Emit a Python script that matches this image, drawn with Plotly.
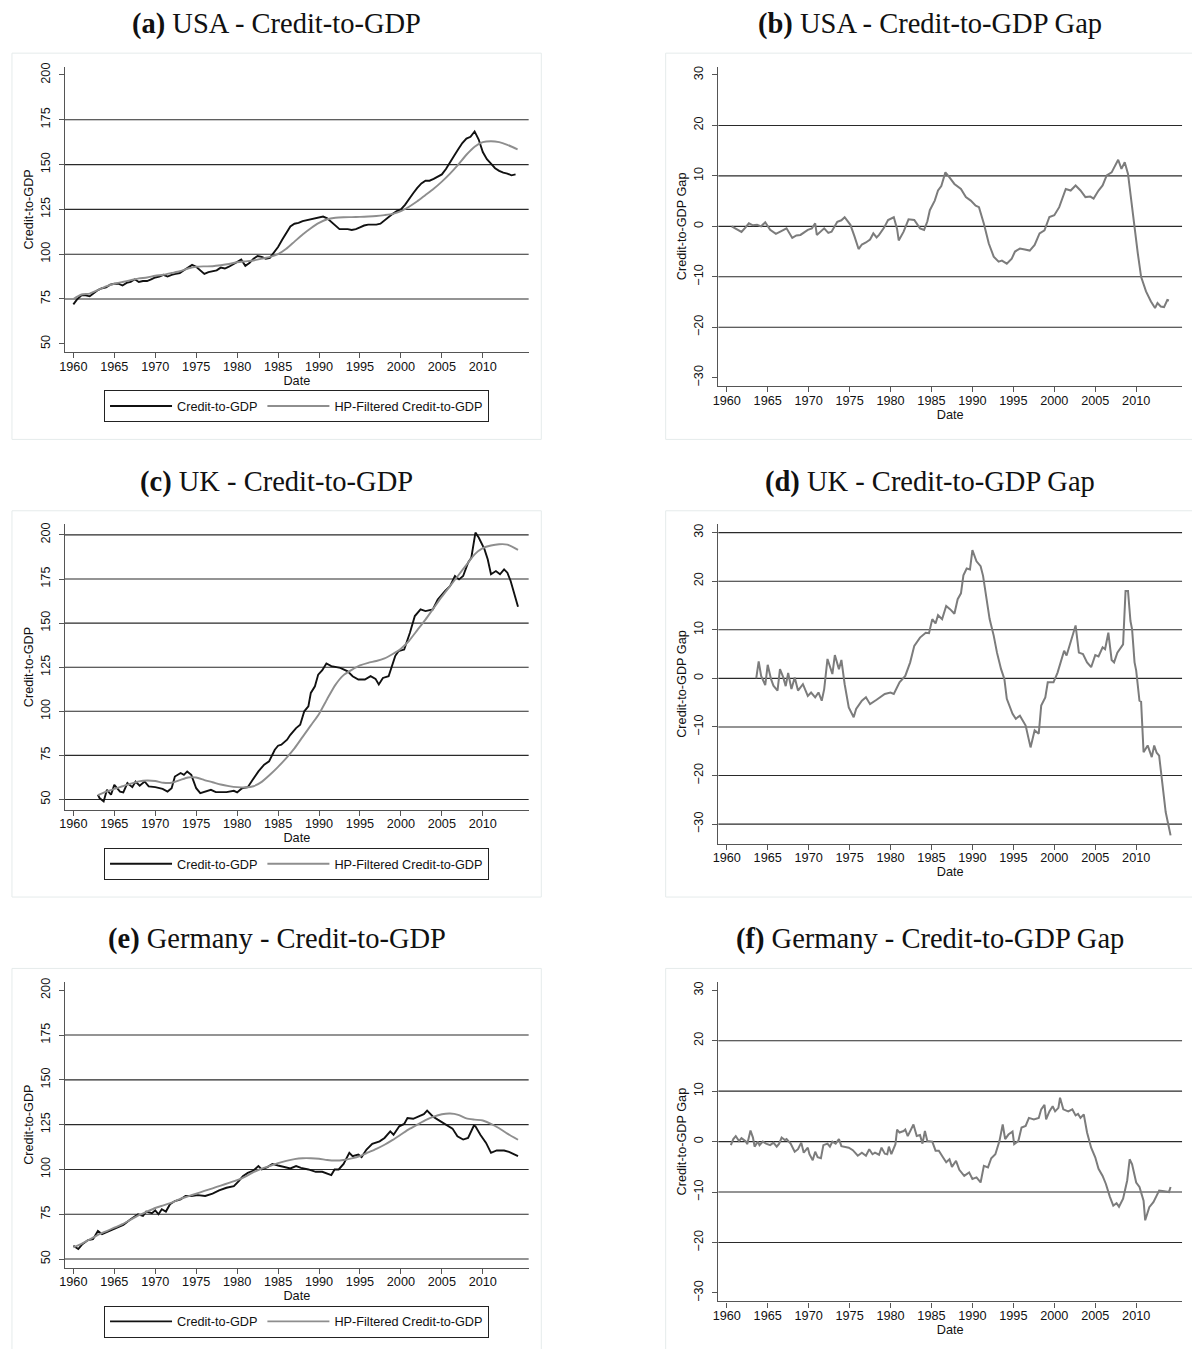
import plotly.graph_objects as go

W, H = 1192, 1349

# ------------------------------------------------------------------ data
x_ticks = [1960, 1965, 1970, 1975, 1980, 1985, 1990, 1995, 2000, 2005, 2010]
ratio_ticks = [50, 75, 100, 125, 150, 175, 200]
gap_ticks = [-30, -20, -10, 0, 10, 20, 30]

# USA credit-to-GDP (half-yearly readings)
usa_dates = [1960.0 + 0.5 * i for i in range(109)]
usa_ratio = [72, 75, 77, 77, 76.5, 78, 80, 81, 81.5, 83, 83.5, 83.5, 82.5, 84, 84.5, 86,
             84.5, 85, 85, 86, 87, 87.5, 88.5, 87.5, 88.5, 89, 89.5, 91, 92.5, 94, 93, 91,
             89, 90, 90.5, 91, 92.5, 92, 93, 94.5, 96, 97, 93.5, 95, 97.5, 99, 98.5, 97.5,
             98, 101, 104, 108, 112, 115.5, 117, 117.5, 118.5, 119, 119.5, 120, 120.5, 121,
             120, 118, 115.5, 114, 114, 114, 113.5, 114, 115, 116, 116.5, 116.5, 116.5, 117,
             119, 121, 122.5, 124, 125, 127.5, 131, 134, 137, 139.5, 141, 141, 142, 143.5,
             144.5, 147.5, 151.5, 155, 158.5, 162, 164.5, 165.5, 168.5, 164, 157, 153,
             150.5, 148, 146.5, 145.5, 145, 144, 144.5]
usa_trend_dates = list(range(1960, 2014)) + [2014.25]
usa_trend = [75, 77.5, 78, 80, 82, 83.5, 84.5, 85.5, 86.5, 87, 88, 88.5, 89.5, 90.5, 92, 93,
             93.2, 93.3, 93.8, 94.5, 95.5, 96, 96.5, 97.5, 98.5, 100, 103, 107, 111, 114.5,
             117.5, 119.5, 120.3, 120.6, 120.7, 120.8, 121, 121.3, 121.8, 122.5, 124, 126.5,
             129.5, 133, 136.5, 140.5, 145, 150, 155.5, 160, 162.5, 163, 162.5, 161, 158.5]
usa_gap_dates = [1960.6, 1961.2, 1961.8, 1962.3, 1962.7, 1963.2, 1963.7, 1964.2, 1964.7, 1965.3,
                 1966.0, 1966.6, 1967.3, 1968.0, 1968.5, 1969.0, 1969.9, 1970.4, 1970.8, 1971.0,
                 1971.5, 1971.9, 1972.4, 1972.8, 1973.5, 1974.0, 1974.4, 1975.1, 1975.6, 1976.1,
                 1976.5, 1977.0, 1977.5, 1977.9, 1978.3, 1978.6, 1979.2, 1979.7, 1980.4, 1980.8,
                 1981.0, 1981.6, 1982.2, 1982.9, 1983.6, 1984.1, 1984.5, 1984.8, 1985.4, 1985.8,
                 1986.2, 1986.7, 1987.2, 1987.8, 1988.6, 1989.2, 1989.8, 1990.4, 1990.8, 1991.4,
                 1992.0, 1992.6, 1993.2, 1993.6, 1994.2, 1994.8, 1995.2, 1995.8, 1996.4, 1997.0,
                 1997.6, 1998.2, 1998.8, 1999.4, 2000.0, 2000.6, 2001.4, 2002.0, 2002.6, 2003.2,
                 2003.8, 2004.4, 2004.8, 2005.4, 2005.9, 2006.4, 2007.0, 2007.8, 2008.2, 2008.6,
                 2009.0, 2009.4, 2009.8, 2010.2, 2010.6, 2011.2, 2011.8, 2012.3, 2012.6, 2013.0,
                 2013.4, 2013.8, 2014.0]
usa_gap = [0.0, -0.6, -1.1, -0.2, 0.6, 0.2, 0.3, 0.0, 0.8, -0.7,
           -1.5, -1.0, -0.4, -2.3, -1.8, -1.7, -0.7, -0.4, 0.6, -1.7,
           -1.0, -0.4, -1.3, -1.05, 0.9, 1.2, 1.8, 0.3, -2.0, -4.5,
           -3.6, -3.2, -2.6, -1.4, -2.2, -1.7, -0.3, 1.25, 1.8, -0.5,
           -2.8, -1.05, 1.4, 1.25, -0.4, -0.7, 1.0, 3.2, 5.1, 7.1,
           8.0, 10.7, 9.7, 8.4, 7.4, 5.8, 5.1, 4.1, 3.8, 0.5,
           -3.4, -6.0, -7.0, -6.8, -7.4, -6.4, -5.0, -4.4, -4.6, -4.8,
           -3.7, -1.4, -0.8, 1.85, 2.2, 3.8, 7.4, 7.1, 8.1, 7.1,
           5.8, 5.9, 5.5, 7.1, 8.1, 10.1, 10.7, 13.2, 11.4, 12.7,
           10.4, 5.1, -0.8, -5.4, -10.0, -12.9, -14.9, -16.2, -15.2, -15.9,
           -16.0, -14.6, -14.7]

# UK credit-to-GDP
uk_dates = [1963.0, 1963.2, 1963.7, 1964.1, 1964.6, 1965.0, 1965.7, 1966.1, 1966.6, 1967.2,
            1967.6, 1968.1, 1968.7, 1969.2, 1970.0, 1970.9, 1971.5, 1972.0, 1972.4, 1973.1,
            1973.5, 1973.9, 1974.4, 1975.0, 1975.5, 1976.1, 1976.8, 1977.4, 1978.7, 1979.6,
            1980.0, 1980.6, 1981.3, 1981.9, 1982.6, 1983.3, 1983.9, 1984.6, 1985.0, 1985.4,
            1986.1, 1986.5, 1987.2, 1987.7, 1988.2, 1988.7, 1989.0, 1989.5, 1989.9, 1990.4,
            1990.9, 1991.5, 1992.6, 1993.5, 1994.1, 1994.8, 1995.6, 1996.3, 1996.9, 1997.3,
            1997.8, 1998.5, 1998.9, 1999.3, 1999.7, 2000.4, 2001.1, 2001.7, 2002.4, 2003.0,
            2003.9, 2004.5, 2005.4, 2006.0, 2006.6, 2007.1, 2007.6, 2008.2, 2008.6, 2009.1,
            2009.5, 2010.2, 2010.6, 2011.0, 2011.6, 2012.1, 2012.6, 2013.0, 2013.4, 2013.9,
            2014.3]
uk_ratio = [52.7, 50.8, 48.9, 55.5, 52.7, 58.3, 54.5, 54.0, 59.3, 57.0,
            60.2, 57.8, 60.2, 57.4, 57.0, 56.0, 54.5, 56.4, 63.0, 65.0,
            64.0, 65.9, 64.0, 56.4, 53.6, 54.5, 55.5, 54.2, 54.2, 54.9,
            54.0, 56.4, 57.0, 61.2, 65.9, 69.7, 71.6, 78.2, 80.5, 81.1,
            83.9, 86.7, 90.5, 92.4, 100.0, 102.8, 110.4, 114.2, 120.8, 123.3,
            127.1, 125.6, 124.6, 122.7, 119.9, 118.0, 118.0, 119.9, 118.4, 115.2,
            118.9, 119.9, 125.6, 131.3, 134.1, 135.0, 144.5, 154.0, 157.8, 156.8,
            157.8, 163.4, 168.2, 171.0, 176.7, 174.8, 176.7, 184.3, 187.1, 201.3,
            198.5, 191.9, 186.2, 177.7, 179.5, 177.7, 180.5, 178.6, 173.9, 166.3,
            159.3]
uk_trend_dates = list(range(1963, 2014)) + [2014.3]
uk_trend = [52.5, 54.5, 56.0, 57.5, 59.0, 60.3, 60.8, 60.5, 59.5, 59.5,
            61.0, 62.5, 62.5, 61.0, 59.8, 58.5, 57.6, 57.0, 56.8, 57.5,
            60.0, 64.0, 68.5, 73.5, 79.0, 85.5, 92.0, 98.5, 107.0, 115.0,
            120.5, 123.5, 126.0, 127.5, 128.5, 130.0, 132.5, 135.5, 140.0, 146.0,
            152.0, 158.5, 165.0, 171.0, 177.0, 183.0, 189.0, 192.5, 194.0, 194.7,
            194.5, 191.5]
uk_gap_dates = [1963.6, 1963.9, 1964.2, 1964.7, 1965.0, 1965.4, 1965.7, 1966.2, 1966.5, 1966.9,
                1967.2, 1967.5, 1967.9, 1968.3, 1968.7, 1969.3, 1969.9, 1970.3, 1970.8, 1971.2,
                1971.6, 1971.9, 1972.3, 1972.6, 1972.9, 1973.2, 1973.7, 1974.0, 1974.4, 1974.9,
                1975.5, 1975.8, 1976.5, 1977.0, 1977.5, 1978.3, 1979.3, 1980.0, 1980.4, 1981.1,
                1981.8, 1982.4, 1982.9, 1983.6, 1984.3, 1984.7, 1985.1, 1985.5, 1985.8, 1986.3,
                1986.8, 1987.3, 1987.8, 1988.2, 1988.6, 1988.9, 1989.3, 1989.7, 1990.0, 1990.5,
                1991.0, 1991.3, 1991.7, 1992.1, 1992.6, 1993.0, 1993.5, 1993.9, 1994.2, 1994.9,
                1995.3, 1995.8, 1996.5, 1997.1, 1997.6, 1998.1, 1998.4, 1998.9, 1999.2, 1999.9,
                2000.4, 2000.8, 2001.2, 2001.5, 2002.0, 2002.6, 2003.0, 2003.5, 2004.0, 2004.5,
                2005.0, 2005.4, 2005.9, 2006.2, 2006.6, 2007.0, 2007.3, 2007.7, 2008.4, 2008.7,
                2009.0, 2009.3, 2009.5, 2009.8, 2010.0, 2010.4, 2010.6, 2010.9, 2011.4, 2011.9,
                2012.2, 2012.5, 2012.8, 2013.1, 2013.6, 2014.2]
uk_gap = [0.0, 3.5, 0.5, -1.4, 2.8, -0.1, -1.5, -2.5, 1.9, 0.2,
          -1.6, 1.1, -2.2, 0.2, -2.5, -1.2, -3.6, -2.9, -3.9, -2.9,
          -4.6, -2.2, 4.0, 2.3, 0.9, 4.8, 1.9, 3.8, -1.2, -6.0,
          -8.0, -6.3, -4.6, -3.9, -5.3, -4.4, -3.2, -2.9, -3.2, -0.8,
          0.5, 3.3, 6.7, 8.4, 9.4, 9.3, 12.2, 11.3, 13.0, 12.2,
          14.9, 14.2, 13.3, 16.3, 17.5, 21.2, 22.6, 22.4, 26.4, 24.1,
          23.1, 21.1, 16.3, 12.2, 8.8, 5.3, 1.9, -0.1, -4.2, -7.3,
          -8.3, -7.7, -9.7, -14.2, -10.7, -11.4, -5.6, -3.9, -0.8, -0.8,
          1.2, 3.6, 5.7, 4.7, 7.7, 10.9, 5.3, 5.0, 3.3, 2.3,
          4.8, 4.5, 6.4, 6.0, 9.4, 3.8, 3.3, 5.3, 7.0, 18.0,
          18.0, 11.8, 10.1, 3.3, 1.6, -4.6, -4.8, -15.2, -13.8, -16.2,
          -13.8, -15.3, -15.9, -20.0, -27.5, -32.3]

# Germany credit-to-GDP
de_dates = [1960.0, 1960.6, 1961.1, 1961.8, 1962.4, 1963.0, 1963.5, 1964.4, 1965.3, 1966.1,
            1967.0, 1967.9, 1968.5, 1968.9, 1969.6, 1970.0, 1970.4, 1970.8, 1971.3, 1971.8,
            1972.4, 1973.1, 1973.7, 1974.4, 1975.2, 1976.1, 1977.0, 1977.8, 1978.7, 1979.6,
            1980.2, 1980.7, 1981.3, 1982.0, 1982.6, 1983.0, 1983.7, 1984.3, 1985.0, 1985.7,
            1986.5, 1987.2, 1987.8, 1988.7, 1989.6, 1990.4, 1991.1, 1991.5, 1991.9, 1992.4,
            1993.0, 1993.7, 1994.1, 1994.8, 1995.2, 1995.8, 1996.5, 1997.4, 1998.0, 1998.7,
            1999.1, 1999.8, 2000.4, 2000.8, 2001.5, 2002.1, 2002.8, 2003.2, 2003.9, 2004.5,
            2005.4, 2006.3, 2006.9, 2007.6, 2008.2, 2008.9, 2009.1, 2009.7, 2010.4, 2011.0,
            2011.7, 2012.6, 2013.2, 2013.9, 2014.3]
de_ratio = [57.4, 55.6, 58.3, 60.6, 61.1, 65.7, 63.9, 65.7, 67.2, 69.1,
            72.2, 75.0, 74.1, 76.5, 75.6, 77.2, 75.0, 77.8, 76.5, 80.6,
            82.4, 83.3, 85.2, 85.2, 85.7, 85.2, 86.5, 88.3, 89.8, 90.7,
            93.5, 96.3, 98.1, 99.4, 101.9, 100.0, 101.3, 103.1, 102.2, 101.3,
            100.6, 101.9, 100.9, 100.0, 98.7, 98.7, 97.6, 96.9, 100.0, 100.0,
            103.1, 109.3, 107.4, 108.3, 106.9, 111.1, 114.3, 115.7, 117.6, 121.3,
            119.4, 124.1, 125.4, 128.7, 128.3, 129.6, 130.9, 132.8, 129.6, 127.8,
            125.4, 122.8, 118.5, 116.7, 117.6, 124.4, 124.1, 119.4, 114.8, 109.3,
            110.6, 110.6, 109.8, 108.0, 107.4]
de_trend_dates = list(range(1960, 2014)) + [2014.3]
de_trend = [56.5, 58.5, 61.0, 63.5, 65.5, 67.5, 69.5, 72.0, 74.5, 76.5,
            78.5, 80.0, 81.5, 83.5, 85.0, 86.5, 88.0, 89.5, 91.0, 92.5,
            94.0, 96.0, 98.5, 100.5, 102.0, 103.5, 104.8, 105.8, 106.3, 106.3,
            106.0, 105.3, 105.0, 105.3, 106.2, 107.5, 109.5, 111.5, 113.8, 116.5,
            119.5, 122.5, 125.0, 127.5, 129.5, 130.8, 131.2, 130.5, 128.5, 127.8,
            127.3, 125.5, 123.0, 120.0, 116.6]
de_gap_dates = [1960.5, 1960.8, 1961.1, 1961.5, 1961.8, 1962.3, 1962.5, 1962.9, 1963.2, 1963.4,
                1963.8, 1964.0, 1964.4, 1964.8, 1965.3, 1965.7, 1966.1, 1966.4, 1966.7, 1967.1,
                1967.3, 1967.8, 1968.3, 1968.7, 1969.1, 1969.4, 1969.9, 1970.1, 1970.5, 1970.8,
                1971.1, 1971.5, 1971.8, 1972.3, 1972.6, 1972.9, 1973.3, 1973.7, 1974.0, 1974.4,
                1974.9, 1975.4, 1976.0, 1976.5, 1977.0, 1977.4, 1977.8, 1978.1, 1978.6, 1978.9,
                1979.3, 1979.6, 1979.8, 1980.1, 1980.6, 1980.8, 1981.1, 1981.6, 1981.8, 1982.1,
                1982.5, 1982.8, 1983.2, 1983.6, 1983.9, 1984.2, 1984.5, 1985.1, 1985.5, 1985.9,
                1986.4, 1986.8, 1987.2, 1987.5, 1988.0, 1988.4, 1989.0, 1989.6, 1990.0, 1990.5,
                1991.0, 1991.4, 1991.9, 1992.3, 1992.8, 1993.3, 1993.7, 1994.0, 1994.4, 1994.9,
                1995.1, 1995.6, 1996.0, 1996.5, 1996.9, 1997.5, 1998.1, 1998.4, 1998.8, 1999.0,
                1999.4, 1999.8, 2000.1, 2000.5, 2000.7, 2001.1, 2001.7, 2002.2, 2002.6, 2002.9,
                2003.2, 2003.6, 2004.0, 2004.5, 2005.0, 2005.4, 2005.9, 2006.3, 2006.8, 2007.2,
                2007.6, 2007.9, 2008.4, 2008.9, 2009.2, 2009.5, 2010.0, 2010.4, 2010.9, 2011.1,
                2011.6, 2012.1, 2012.5, 2012.8, 2013.2, 2013.7, 2014.0, 2014.2]
de_gap = [-0.7, 0.5, 1.1, 0.1, 0.7, 0.1, -0.5, 2.2, 0.8, -1.0,
          0.0, -0.7, 0.0, -0.4, -0.7, -0.2, -1.0, -0.4, 0.8, 0.3,
          0.5, -0.4, -2.0, -1.5, -0.2, -2.2, -1.2, -2.5, -3.7, -2.0,
          -3.1, -3.3, -0.7, -0.4, -1.0, 0.0, -0.4, 0.5, -0.9, -1.0,
          -1.2, -1.7, -2.8, -2.2, -2.8, -1.5, -2.5, -2.2, -2.6, -1.2,
          -2.4, -2.5, -1.0, -2.5, -0.5, 2.4, 1.8, 2.1, 2.4, 1.1,
          2.4, 3.4, 1.1, 1.3, -0.4, 2.1, 0.1, 0.0, -1.8, -1.8,
          -3.1, -4.1, -3.5, -5.0, -3.8, -5.6, -6.8, -6.1, -7.4, -7.1,
          -8.1, -4.8, -5.1, -3.3, -2.5, 0.1, 3.4, 0.5, 1.4, 2.0,
          -0.5, 0.1, 2.8, 3.1, 4.7, 4.4, 4.7, 6.4, 7.3, 4.4,
          6.0, 7.0, 6.0, 6.7, 8.7, 6.4, 6.0, 6.4, 5.2, 5.5,
          4.7, 5.4, 1.8, -1.2, -3.1, -5.4, -6.8, -8.4, -11.0, -12.7,
          -12.2, -12.9, -11.3, -7.7, -3.5, -4.5, -8.1, -9.0, -11.7, -15.6,
          -13.0, -12.0, -10.7, -9.7, -9.8, -10.0, -10.0, -9.0]

ratio_label = "Credit-to-GDP"
trend_label = "HP-Filtered Credit-to-GDP"
gap_label = "Credit-to-GDP Gap"

# ------------------------------------------------------------------ style
SANS = "Liberation Sans, Arial, sans-serif"
SERIF = "Liberation Serif, Times New Roman, serif"
BLACK = "#111111"
HPGRAY = "#8e8e8e"
GAPGRAY = "#7c7c7c"
GRID = "#2a2a2a"
AXIS = "#555555"
FRAME = "#e5ebeb"
TICKFONT = 12.7

X_RANGE = [1958.98, 2015.6]
ROW_OFF = [0, 459, 918]
LEFT_X = (59.3, 525.3)
RIGHT_X = (716.0, 1182.0)
LEFT_Y = (62.7, 349.3)
RIGHT_Y = (62.7, 383.3)


def px(x):
    return x / W


def py(y):
    return 1 - y / H


panels = [
    dict(title="<b>(a)</b> USA - Credit-to-GDP", kind="ratio", row=0, col=0,
         rng=[45.27, 204.73], grid=[75, 100, 125, 150, 175],
         ratio=(usa_dates, usa_ratio), trend=(usa_trend_dates, usa_trend), legend="legend"),
    dict(title="<b>(b)</b> USA - Credit-to-GDP Gap", kind="gap", row=0, col=1,
         rng=[-31.68, 31.68], grid=[-20, -10, 0, 10, 20], gap=(usa_gap_dates, usa_gap)),
    dict(title="<b>(c)</b> UK - Credit-to-GDP", kind="ratio", row=1, col=0,
         rng=[44.1, 206.1], grid=[50, 75, 100, 125, 150, 175, 200],
         ratio=(uk_dates, uk_ratio), trend=(uk_trend_dates, uk_trend), legend="legend2"),
    dict(title="<b>(d)</b> UK - Credit-to-GDP Gap", kind="gap", row=1, col=1,
         rng=[-34.04, 31.74], grid=[-30, -20, -10, 0, 10, 20, 30], gap=(uk_gap_dates, uk_gap)),
    dict(title="<b>(e)</b> Germany - Credit-to-GDP", kind="ratio", row=2, col=0,
         rng=[45.27, 204.73], grid=[50, 75, 100, 125, 150, 175],
         ratio=(de_dates, de_ratio), trend=(de_trend_dates, de_trend), legend="legend3"),
    dict(title="<b>(f)</b> Germany - Credit-to-GDP Gap", kind="gap", row=2, col=1,
         rng=[-31.68, 31.68], grid=[-20, -10, 0, 10, 20], gap=(de_gap_dates, de_gap)),
]

fig = go.Figure()
shapes = []
annotations = []
layout = dict(
    width=W, height=H, margin=dict(l=0, r=0, t=0, b=0),
    paper_bgcolor="white", plot_bgcolor="white",
    font=dict(family=SANS, size=TICKFONT, color="#111111"),
)

for i, p in enumerate(panels):
    n = "" if i == 0 else str(i + 1)
    off = ROW_OFF[p["row"]]
    xs = LEFT_X if p["col"] == 0 else RIGHT_X
    ys = LEFT_Y if p["col"] == 0 else RIGHT_Y
    xa, ya = "x" + n, "y" + n

    layout["xaxis" + n] = dict(
        domain=[px(xs[0]), px(xs[1])], anchor=ya, range=X_RANGE,
        tickmode="array", tickvals=x_ticks, ticks="outside", ticklen=5, tickwidth=1.2,
        tickcolor=AXIS, showline=True, linecolor=AXIS, linewidth=1.3,
        showgrid=False, zeroline=False, ticklabelstandoff=-3,
        tickfont=dict(family=SANS, size=TICKFONT, color="#111111"),
        title=dict(text="Date", font=dict(family=SANS, size=TICKFONT, color="#111111"), standoff=1),
    )
    layout["yaxis" + n] = dict(
        domain=[py(ys[1] + off), py(ys[0] + off)], anchor=xa, range=p["rng"],
        tickmode="array", tickvals=ratio_ticks if p["kind"] == "ratio" else gap_ticks,
        tickangle=-90, ticks="outside", ticklen=5, tickwidth=1.2, tickcolor=AXIS,
        ticklabelstandoff=4,
        showline=True, linecolor=AXIS, linewidth=1.3, showgrid=False, zeroline=False,
        tickfont=dict(family=SANS, size=TICKFONT, color="#111111"),
        title=dict(text=ratio_label if p["kind"] == "ratio" else gap_label,
                   font=dict(family=SANS, size=TICKFONT, color="#111111"), standoff=2),
    )

    for g in p["grid"]:
        shapes.append(dict(type="line", xref=xa + " domain", yref=ya, x0=0, x1=1, y0=g, y1=g,
                           line=dict(color=GRID, width=1.1), layer="below"))

    if p["kind"] == "ratio":
        fig.add_trace(go.Scatter(x=p["ratio"][0], y=p["ratio"][1], mode="lines", name=ratio_label,
                                 line=dict(color=BLACK, width=1.9), xaxis=xa, yaxis=ya,
                                 legend=p["legend"], showlegend=True))
        fig.add_trace(go.Scatter(x=p["trend"][0], y=p["trend"][1], mode="lines", name=trend_label,
                                 line=dict(color=HPGRAY, width=1.9, shape="spline", smoothing=0.6),
                                 xaxis=xa, yaxis=ya, legend=p["legend"], showlegend=True))
        layout[p["legend"]] = dict(
            x=px(292), y=py(403.5 + off), xanchor="center", yanchor="middle",
            orientation="h", bgcolor="white", bordercolor="#222222", borderwidth=1,
            font=dict(family=SANS, size=TICKFONT, color="#111111"),
            itemwidth=62, traceorder="normal",
        )
    else:
        fig.add_trace(go.Scatter(x=p["gap"][0], y=p["gap"][1], mode="lines", name=gap_label,
                                 line=dict(color=GAPGRAY, width=2.0), xaxis=xa, yaxis=ya,
                                 showlegend=False))

    # panel frame
    fx0, fx1 = (6, 538) if p["col"] == 0 else (663, 1196)
    shapes.append(dict(type="rect", xref="paper", yref="paper", x0=px(fx0), x1=px(fx1),
                       y0=py(436.7 + off), y1=py(49.3 + off),
                       line=dict(color=FRAME, width=1), fillcolor="rgba(0,0,0,0)", layer="below"))
    # panel caption
    cx = 272 if p["col"] == 0 else 929
    annotations.append(dict(text=p["title"], xref="paper", yref="paper", x=px(cx), y=py(20 + off),
                            xanchor="center", yanchor="middle", showarrow=False,
                            font=dict(family=SERIF, size=28.5, color="#111111")))

layout["shapes"] = shapes
layout["annotations"] = annotations
fig.update_layout(**layout)
fig.write_html("out.html")
